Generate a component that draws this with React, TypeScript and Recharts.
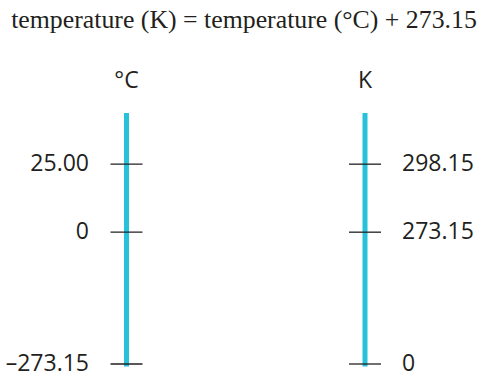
import { ComposedChart, Scatter, XAxis, YAxis } from "recharts";

const scaleNames = ["°C", "K"];
const celsiusMarks = [-273.15, 0, 25];
const celsiusLabels = ["–273.15", "0", "25.00"];
const kelvinMarks = [0, 273.15, 298.15];
const kelvinLabels = ["0", "273.15", "298.15"];
// thermometer column, bottom to top
const celsiusSpan = [-273.15, 39];
const kelvinSpan = [0, 312.15];

const CYAN = "#27c2d9";
const INK = "#231f20";
const SANS = "'Open Sans', sans-serif";

// schematic (non-proportional) axis: power curve measured from the bottom of the domain
function schematicScale(exponent: number): any {
  let dom = [0, 1];
  let rng = [0, 1];
  const scale: any = (v: number) => {
    const f = Math.max(0, (v - dom[0]) / (dom[1] - dom[0]));
    return rng[0] + (rng[1] - rng[0]) * Math.pow(f, exponent);
  };
  scale.domain = (d?: number[]) => {
    if (!d) return dom.slice();
    dom = d.map(Number);
    return scale;
  };
  scale.range = (r?: number[]) => {
    if (!r) return rng.slice();
    rng = r.map(Number);
    return scale;
  };
  scale.invert = (y: number) =>
    dom[0] + (dom[1] - dom[0]) * Math.pow((y - rng[0]) / (rng[1] - rng[0]), 1 / exponent);
  scale.ticks = () => dom.slice();
  scale.copy = () => schematicScale(exponent).domain(dom).range(rng);
  return scale;
}

function Mark(props: any) {
  const { cx, cy, payload, side } = props;
  if (cx == null || cy == null) return <g />;
  const left = side === "left";
  return (
    <g>
      <line x1={cx - 16} x2={cx + 16} y1={cy} y2={cy} stroke={INK} strokeWidth={1.3} />
      <text
        x={left ? cx - 37.5 : cx + 37}
        y={cy}
        dy="0.3em"
        textAnchor={left ? "end" : "start"}
        fill={INK}
        fontSize={23}
        fontFamily={SANS}
      >
        {payload.label}
      </text>
    </g>
  );
}

function ScaleName(props: any) {
  const { x, y, payload } = props;
  return (
    <text x={x} y={y} textAnchor="middle" fill={INK} fontSize={23} fontFamily={SANS}>
      {payload.value}
    </text>
  );
}

const column = (name: string, span: number[]) => span.map((t) => ({ scale: name, t }));
const marks = (name: string, values: number[], labels: string[]) =>
  values.map((t, i) => ({ scale: name, t, label: labels[i] }));

export default function App() {
  return (
    <div style={{ position: "relative", width: 482, height: 372 }}>
      <style>{"body{margin:0}"}</style>
      <div
        style={{
          position: "absolute",
          top: 7,
          left: 0,
          width: 488,
          textAlign: "center",
          fontFamily: "'Liberation Serif', serif",
          fontSize: 25.8,
          lineHeight: "25px",
          color: INK,
          whiteSpace: "nowrap",
        }}
      >
        temperature (K) = temperature (°C) + 273.15
      </div>
      <ComposedChart
        width={482}
        height={372}
        data={scaleNames.map((scale) => ({ scale }))}
        margin={{ top: 85.5, right: 117, bottom: 8, left: 126.5 }}
      >
        <XAxis
          dataKey="scale"
          type="category"
          scale="point"
          orientation="top"
          allowDuplicatedCategory={false}
          ticks={scaleNames}
          axisLine={false}
          tickLine={false}
          tickMargin={22}
          tick={<ScaleName />}
        />
        <YAxis yAxisId="c" type="number" hide domain={celsiusSpan} scale={schematicScale(4.75)} />
        <YAxis yAxisId="k" type="number" hide domain={kelvinSpan} scale={schematicScale(4.75)} />
        <Scatter
          yAxisId="c"
          data={column("°C", celsiusSpan)}
          dataKey="t"
          line={{ stroke: CYAN, strokeWidth: 5, strokeLinecap: "square" }}
          shape={() => <g />}
          isAnimationActive={false}
        />
        <Scatter
          yAxisId="k"
          data={column("K", kelvinSpan)}
          dataKey="t"
          line={{ stroke: CYAN, strokeWidth: 5, strokeLinecap: "square" }}
          shape={() => <g />}
          isAnimationActive={false}
        />
        <Scatter
          yAxisId="c"
          data={marks("°C", celsiusMarks, celsiusLabels)}
          dataKey="t"
          shape={(p: any) => <Mark {...p} side="left" />}
          isAnimationActive={false}
        />
        <Scatter
          yAxisId="k"
          data={marks("K", kelvinMarks, kelvinLabels)}
          dataKey="t"
          shape={(p: any) => <Mark {...p} side="right" />}
          isAnimationActive={false}
        />
      </ComposedChart>
    </div>
  );
}
